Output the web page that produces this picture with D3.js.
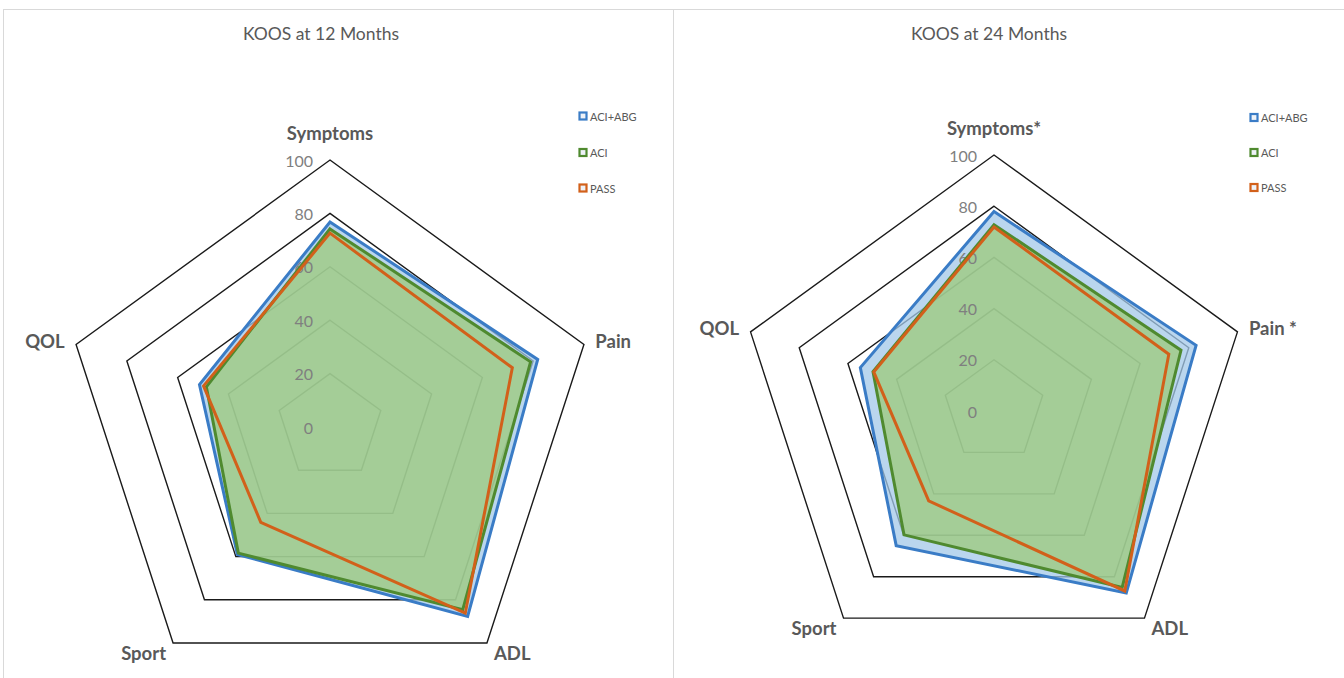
<!DOCTYPE html>
<html>
<head>
<meta charset="utf-8">
<script src="https://cdn.jsdelivr.net/npm/d3@7/dist/d3.min.js"></script>
<style>
  html, body { margin: 0; padding: 0; background: #ffffff; }
  svg { display: block; }
  text { font-family: Lato, "Open Sans", "DejaVu Sans", sans-serif; }
</style>
</head>
<body>
<svg id="chart" width="1344" height="678"></svg>
<script>
// KOOS subscale scores (0-100)
const axes12 = ["Symptoms", "Pain", "ADL", "Sport", "QOL"];
const axes24 = ["Symptoms*", "Pain *", "ADL", "Sport", "QOL"];
const seriesNames = ["ACI+ABG", "ACI", "PASS"];
const tickValues = [0, 20, 40, 60, 80, 100];

const aciAbg12 = [76.8, 81.8, 87.7, 59.0, 51.4];
const aci12    = [74.2, 79.0, 84.6, 58.4, 48.7];
const pass12   = [72.6, 71.8, 86.2, 44.1, 49.8];

const aciAbg24 = [77.9, 83.0, 87.9, 65.0, 54.9];
const aci24    = [72.8, 76.8, 85.2, 59.8, 49.7];
const pass24   = [71.9, 71.8, 86.9, 43.4, 49.4];

const titles = ["KOOS at 12 Months", "KOOS at 24 Months"];

// Series styling
const lineColors = ["#3a7cc6", "#4f8a2f", "#d2601a"];
const fillColors = ["rgb(163,200,232)", "rgb(156,201,122)", null];
const fillOpacity = 0.75;

const svg = d3.select("#chart");

// Panel frames
const panels = [
  { x: 3.5, y: 9.5, w: 670, h: 700 },
  { x: 673.5, y: 9.5, w: 680, h: 700 }
];
svg.selectAll("rect.panel").data(panels).join("rect")
  .attr("class", "panel")
  .attr("x", d => d.x).attr("y", d => d.y)
  .attr("width", d => d.w).attr("height", d => d.h)
  .attr("fill", "#ffffff").attr("stroke", "#d9d9d9").attr("stroke-width", 1);

const layouts = [
  { cx: 330, cy: 427, R: 267, titleX: 321, legendX: 583, legendY: [116, 152.5, 188] },
  { cx: 994, cy: 411, R: 256, titleX: 989, legendX: 1254, legendY: [117.5, 152.5, 187.5] }
];

const charts = [
  { axes: axes12, series: [aciAbg12, aci12, pass12] },
  { axes: axes24, series: [aciAbg24, aci24, pass24] }
];

const nAxes = 5;
const angle = i => i * 2 * Math.PI / nAxes;

charts.forEach((chart, ci) => {
  const L = layouts[ci];
  const r = d3.scaleLinear().domain([0, 100]).range([0, L.R]);
  const g = svg.append("g").attr("transform", `translate(${L.cx},${L.cy})`);

  const radial = d3.lineRadial()
    .angle((d, i) => angle(i))
    .radius(d => r(d))
    .curve(d3.curveLinearClosed);

  // Title
  svg.append("text")
    .attr("x", L.titleX).attr("y", 33)
    .attr("text-anchor", "middle").attr("dominant-baseline", "central")
    .attr("font-size", 17.5).attr("fill", "#595959")
    .text(titles[ci]);

  // Concentric pentagon gridlines
  g.selectAll("path.ring").data(tickValues.filter(t => t > 0)).join("path")
    .attr("class", "ring")
    .attr("d", t => radial(d3.range(nAxes).map(() => t)))
    .attr("fill", "none").attr("stroke", "#1a1a1a").attr("stroke-width", 1.4)
    .attr("stroke-linejoin", "miter");

  // Filled areas
  chart.series.forEach((vals, si) => {
    if (fillColors[si]) {
      g.append("path")
        .attr("d", radial(vals))
        .attr("fill", fillColors[si]).attr("fill-opacity", fillOpacity)
        .attr("stroke", "none");
    }
  });

  // Tick labels along the top axis
  g.selectAll("text.tick").data(tickValues).join("text")
    .attr("class", "tick")
    .attr("x", -17).attr("y", t => -r(t))
    .attr("text-anchor", "end").attr("dominant-baseline", "central")
    .attr("font-size", 16).attr("fill", "#7f7f7f")
    .text(t => t);

  // Series outlines
  chart.series.forEach((vals, si) => {
    g.append("path")
      .attr("d", radial(vals))
      .attr("fill", "none")
      .attr("stroke", lineColors[si]).attr("stroke-width", 3)
      .attr("stroke-linejoin", "miter");
  });

  // Axis category labels outside the outer ring
  chart.axes.forEach((name, i) => {
    const a = angle(i);
    const dx = Math.sin(a), dy = -Math.cos(a);
    const px = dx * (L.R + 12), py = dy * (L.R + 12);
    let anchor = "middle", yOff = 0;
    if (i === 0) { yOff = -15; }
    else if (dx > 0) { anchor = "start"; }
    else { anchor = "end"; }
    g.append("text")
      .attr("x", px).attr("y", py + yOff)
      .attr("text-anchor", anchor).attr("dominant-baseline", "central")
      .attr("font-size", 18.5).attr("font-weight", "bold").attr("fill", "#595959")
      .text(name);
  });

  // Legend
  const lg = svg.append("g");
  seriesNames.forEach((name, si) => {
    const y = L.legendY[si];
    lg.append("rect")
      .attr("x", L.legendX - 3.5).attr("y", y - 3.5)
      .attr("width", 7).attr("height", 7)
      .attr("fill", "#eef2f8").attr("stroke", lineColors[si]).attr("stroke-width", 2.2);
    lg.append("text")
      .attr("x", L.legendX + 7).attr("y", y)
      .attr("dominant-baseline", "central")
      .attr("font-size", 11).attr("fill", "#595959")
      .text(name);
  });
});
</script>
</body>
</html>
